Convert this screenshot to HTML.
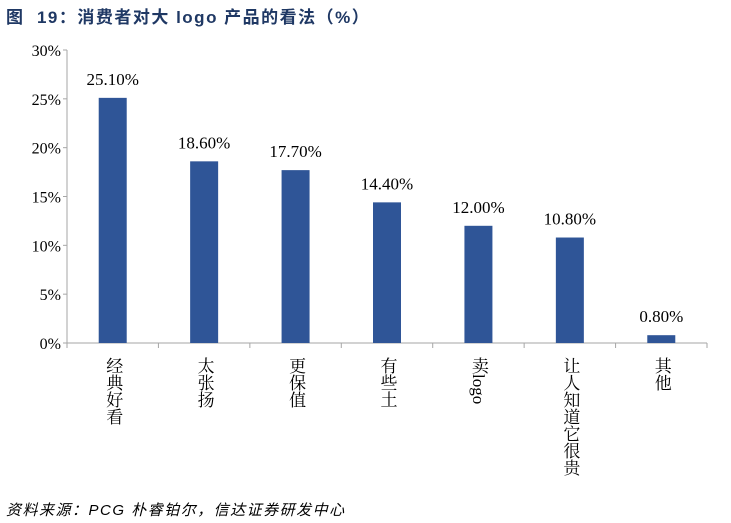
<!DOCTYPE html>
<html><head><meta charset="utf-8"><style>
body{margin:0;background:#fff;width:731px;height:523px;overflow:hidden;position:relative}
.title{position:absolute;left:6px;top:3px;font:bold 17px "Liberation Sans","Noto Sans CJK SC",sans-serif;color:#1F3864;white-space:nowrap;letter-spacing:1.5px}
.src{position:absolute;left:6px;top:499px;font:italic 15px "Liberation Sans","Noto Sans CJK SC",sans-serif;color:#000;white-space:nowrap;letter-spacing:1.5px}
svg{position:absolute;left:0;top:0}
</style></head><body>
<div class="title">图&nbsp; 19：消费者对大 logo 产品的看法（%）</div>
<svg id="chart" width="731" height="523"></svg>
<div class="src">资料来源：PCG 朴睿铂尔，信达证券研发中心</div>
<script>
const categories=["经典好看","太张扬","更保值","有些土","卖logo","让人知道它很贵","其他"];
const values=[25.1,18.6,17.7,14.4,12.0,10.8,0.8];
const valueLabels=["25.10%","18.60%","17.70%","14.40%","12.00%","10.80%","0.80%"];
const yTicks=[0,5,10,15,20,25,30];
const yTickLabels=["0%","5%","10%","15%","20%","25%","30%"];
const NS="http://www.w3.org/2000/svg";
const svg=document.getElementById('chart');
const x0=67,x1=707,yb=343,yt=50,yMax=30;
const bw=(x1-x0)/categories.length;
const y=v=>yb-(v/yMax)*(yb-yt);
const xc=i=>x0+bw*(i+0.5);
function el(t,a){const e=document.createElementNS(NS,t);for(const k in a)e.setAttribute(k,a[k]);svg.appendChild(e);return e;}
const ax=el('line',{x1:x0,y1:yt,x2:x0,y2:yb,stroke:'#a6a6a6','stroke-width':1});


const xa=el('line',{x1:x0,y1:yb,x2:x1,y2:yb,stroke:'#a6a6a6','stroke-width':1});


yTicks.forEach((t,i)=>{
  el('line',{x1:x0-4,y1:y(t),x2:x0,y2:y(t),stroke:'#a6a6a6'});
  const tx=el('text',{x:x0-6,y:y(t)+6,'text-anchor':'end','font-size':16,'font-family':'Liberation Serif, serif'});
  tx.textContent=yTickLabels[i];
  
  
});
for(let i=0;i<=categories.length;i++){el('line',{x1:x0+bw*i,y1:yb,x2:x0+bw*i,y2:yb+5,stroke:'#a6a6a6'});}
categories.forEach((c,i)=>{
  const r=el('rect',{x:xc(i)-14,y:y(values[i]),width:28,height:yb-y(values[i]),fill:'#2F5597'});
  
  
  const vl=el('text',{x:xc(i),y:y(values[i])-13,'text-anchor':'middle','font-size':17,'font-family':'Liberation Serif, serif'});
  vl.textContent=valueLabels[i];
  
  
  const cl=el('text',{x:xc(i),y:357,'font-size':17,'font-family':'Liberation Serif, Noto Serif CJK SC, serif',style:'writing-mode:vertical-rl;text-orientation:mixed'});
  cl.textContent=c;
  
  
});
</script>
</body></html>
